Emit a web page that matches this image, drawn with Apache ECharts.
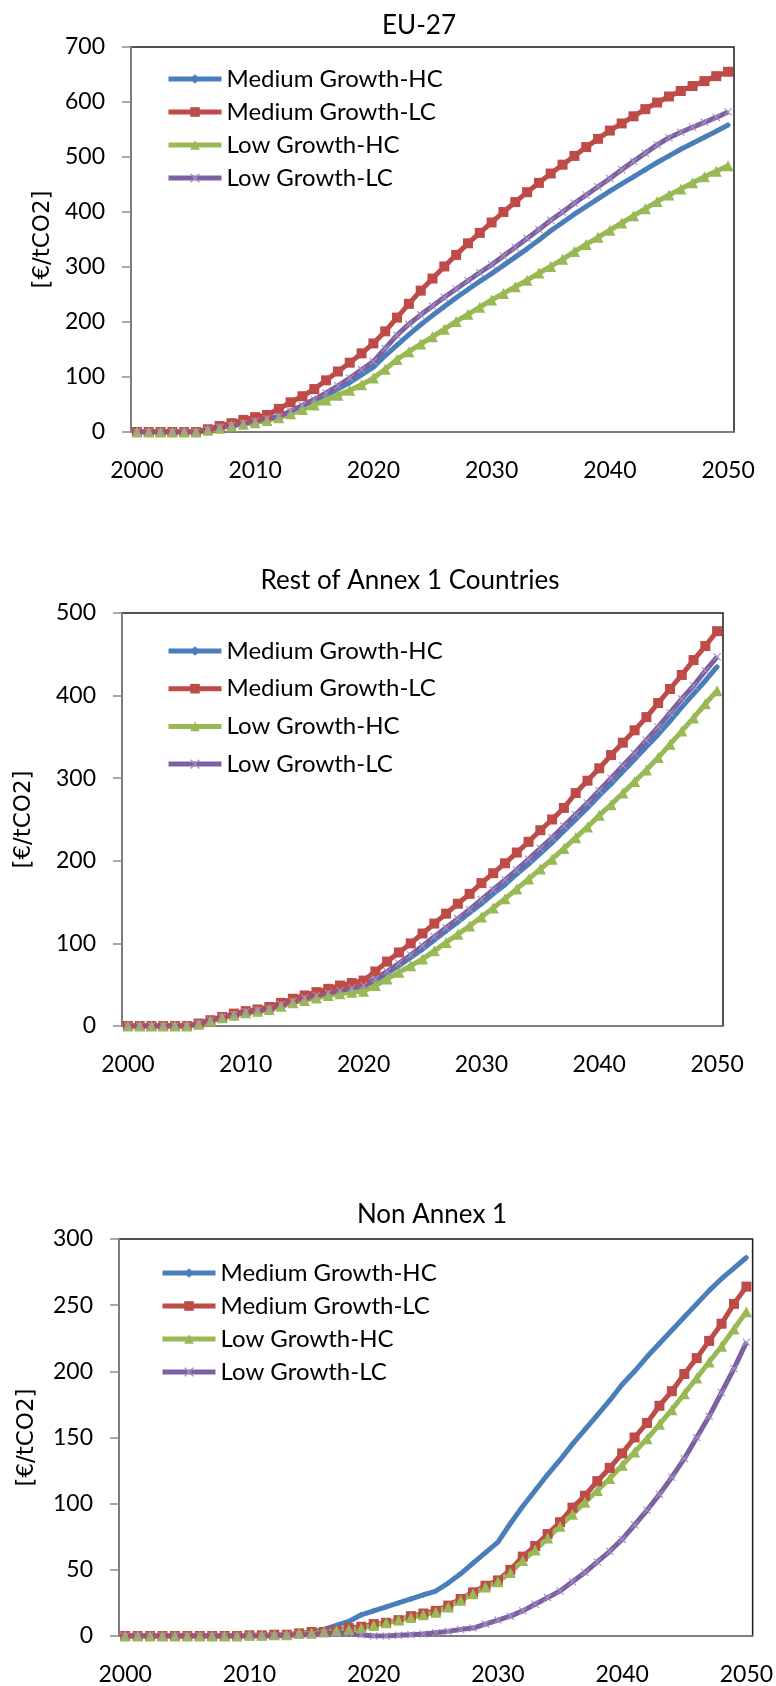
<!DOCTYPE html>
<html>
<head>
<meta charset="utf-8">
<script src="https://cdn.jsdelivr.net/npm/echarts@6/dist/echarts.min.js"></script>
<style>
html,body{margin:0;padding:0;background:#fff;}
#main{width:776px;height:1686px;}
</style>
</head>
<body>
<div id="main"></div>
<script>
// years 2000 - 2050
var years = ['2000','2001','2002','2003','2004','2005','2006','2007','2008','2009',
  '2010','2011','2012','2013','2014','2015','2016','2017','2018','2019',
  '2020','2021','2022','2023','2024','2025','2026','2027','2028','2029',
  '2030','2031','2032','2033','2034','2035','2036','2037','2038','2039',
  '2040','2041','2042','2043','2044','2045','2046','2047','2048','2049','2050'];

var seriesNames = ['Medium Growth-HC', 'Medium Growth-LC', 'Low Growth-HC', 'Low Growth-LC'];

// EU-27
var euMedHC = [0,0,0,0,0,0,4,8,12,16, 20,24,28,36,46,56,67,78,90,104,
  118,139,158,177,195,212,228,244,259,274, 288,303,318,333,349,366,381,396,410,424,
  438,451,464,477,490,502,514,525,536,547,558];
var euMedLC = [0,0,0,0,0,0,5,11,16,22, 27,31,42,54,65,78,94,110,126,143,
  161,183,208,233,257,279,301,322,343,362, 381,400,418,436,453,470,486,502,518,533,
  548,561,574,587,599,610,620,629,638,647,655];
var euLowHC = [0,0,0,0,0,0,3,7,11,14, 17,21,26,33,41,49,58,67,76,86,
  98,114,132,146,160,173,187,201,214,227, 240,252,264,276,289,301,314,328,341,354,
  367,380,393,406,419,431,442,453,464,474,484];
var euLowLC = [0,0,0,0,0,0,4,8,12,16, 20,24,28,38,48,59,71,84,98,113,
  128,152,176,196,213,229,245,260,275,290, 304,320,336,352,368,385,400,416,431,446,
  461,477,492,507,522,535,545,554,563,572,582];

// Rest of Annex 1 Countries
var raMedHC = [0,0,0,0,0,0,3,7,10,13, 16,18,20,25,29,33,36,39,42,45,
  47,55,64,73,83,93,104,115,126,137, 148,160,171,184,196,209,222,236,250,264,
  279,293,308,323,338,353,369,386,402,418,435];
var raMedLC = [0,0,0,0,0,0,3,7,11,15, 18,20,23,28,33,37,41,45,49,52,
  55,66,78,89,100,112,124,136,148,160, 173,185,197,210,223,237,250,264,282,297,
  312,328,343,358,374,391,408,425,443,460,478];
var raLowHC = [0,0,0,0,0,0,2,6,10,13, 16,18,20,24,28,31,34,37,39,41,
  42,49,57,65,73,81,91,101,111,121, 132,143,154,166,178,190,202,215,228,241,
  255,268,282,296,310,325,341,357,373,390,406];
var raLowLC = [0,0,0,0,0,0,3,7,11,14, 17,19,21,26,30,34,37,40,43,46,
  49,57,66,76,86,97,108,119,130,141, 153,165,177,189,202,215,228,242,256,270,
  285,300,315,330,346,362,379,396,412,430,447];

// Non Annex 1
var naMedHC = [0,0,0,0,0,0,0,0,0,0, 0,0,0,1,1,3,5,8,11,16,
  19,22,25,28,31,34,40,47,55,63, 71,85,98,110,122,133,145,156,167,178,
  190,200,211,221,231,241,251,261,270,278,286];
var naMedLC = [0,0,0,0,0,0,0,0,0,0, 0.5,0.5,1,1,2,3,3,4,6,7,
  9,10,12,15,17,19,23,28,33,38, 42,50,60,68,77,86,97,106,117,127,
  138,150,161,174,185,198,210,223,236,251,264];
var naLowHC = [0,0,0,0,0,0,0,0,0,0, 0.5,0.5,1,1,2,2,3,4,5,6,
  8,10,12,14,16,18,22,27,32,37, 41,48,57,65,74,83,92,101,110,119,
  129,139,149,160,171,183,195,207,219,232,245];
var naLowLC = [0,0,0,0,0,0,0,0,0,0, 0,0,0,0.5,1,1,2,2,2,1,
  0,0,0.5,1,1.5,2.5,3.5,5,6,9, 12,15,19,24,29,34,41,48,56,64,
  73,84,95,107,120,134,150,166,184,202,222];

var lineColors = ['#4a7ebb', '#be4b48', '#98b954', '#7d60a0'];
var markColors = ['#4a7ebb', '#be4b48', '#98b954', '#a590c6'];
var crossPath = 'path://M0,1L1,0L5,4L9,0L10,1L6,5L10,9L9,10L5,6L1,10L0,9L4,5Z';
var symbols = ['diamond', 'rect', 'triangle', crossPath];
var symbolSizes = [6, 10, 11, 8];

var fontMain = 'Lato, "Liberation Sans", Arial, sans-serif';

var panels = [
  {title: 'EU-27', titleX: 414, titleY: 8, left: 131, top: 47, width: 603, height: 385,
   max: 700, interval: 100, legendLeft: 161, legendTop: 62, legendGap: 9, nameGap: 72,
   data: [euMedHC, euMedLC, euLowHC, euLowLC]},
  {title: 'Rest of Annex 1 Countries', titleX: 405, titleY: 563, left: 122, top: 613, width: 601, height: 413,
   max: 500, interval: 100, legendLeft: 161, legendTop: 634, legendGap: 13.7, nameGap: 86,
   data: [raMedHC, raMedLC, raLowHC, raLowLC]},
  {title: 'Non Annex 1', titleX: 427, titleY: 1197, left: 119, top: 1239, width: 642, height: 400,
   max: 300, interval: 50, legendLeft: 155, legendTop: 1256, legendGap: 9, nameGap: 80,
   data: [naMedHC, naMedLC, naLowHC, naLowLC]}
];

var myChart = echarts.init(document.getElementById('main'));

var option = {
  animation: false,
  backgroundColor: '#fff',
  textStyle: {fontFamily: fontMain},
  title: [], grid: [], xAxis: [], yAxis: [], legend: [], series: []
};

panels.forEach(function (p, k) {
  option.title.push({
    text: p.title, left: p.titleX, top: p.titleY, textAlign: 'center',
    textStyle: {fontSize: 26, fontWeight: 'normal', color: '#000', fontFamily: fontMain}
  });
  option.grid.push({
    left: p.left, top: p.top, width: p.width, height: p.height,
    show: true, borderColor: '#1a1a1a', borderWidth: 1.5, backgroundColor: '#fff'
  });
  option.xAxis.push({
    type: 'category', gridIndex: k, data: years, boundaryGap: true,
    axisLine: {lineStyle: {color: '#8c8c8c', width: 1.5}},
    axisTick: {interval: 9, length: 9, lineStyle: {color: '#8c8c8c', width: 1.5}},
    axisLabel: {interval: 9, margin: 27, fontSize: 23, color: '#000', fontFamily: fontMain},
    splitLine: {show: false}
  });
  option.yAxis.push({
    type: 'value', gridIndex: k, min: 0, max: p.max, interval: p.interval,
    name: '[€/tCO2]', nameLocation: 'middle', nameGap: p.nameGap, nameRotate: 90,
    nameTextStyle: {fontSize: 23, color: '#000', fontFamily: '"DejaVu Sans", sans-serif'},
    axisLine: {show: true, lineStyle: {color: '#8c8c8c', width: 1.5}},
    axisTick: {show: true, length: 9, lineStyle: {color: '#8c8c8c', width: 1.5}},
    axisLabel: {margin: 26, fontSize: 23, color: '#000', fontFamily: fontMain},
    splitLine: {show: false}
  });
  option.legend.push({
    orient: 'vertical', left: p.legendLeft, top: p.legendTop,
    itemWidth: 53, itemHeight: 12, itemGap: p.legendGap,
    data: seriesNames,
    lineStyle: {width: 5},
    textStyle: {fontSize: 24, color: '#000', lineHeight: 24, fontFamily: fontMain}
  });
  p.data.forEach(function (vals, j) {
    option.series.push({
      name: seriesNames[j], type: 'line',
      xAxisIndex: k, yAxisIndex: k,
      data: vals,
      symbol: symbols[j], symbolSize: symbolSizes[j], showAllSymbol: true,
      lineStyle: {color: lineColors[j], width: 5},
      itemStyle: {color: markColors[j]}
    });
  });
});

myChart.setOption(option);
window.addEventListener('resize', function () {
  myChart.resize();
});
</script>
</body>
</html>
